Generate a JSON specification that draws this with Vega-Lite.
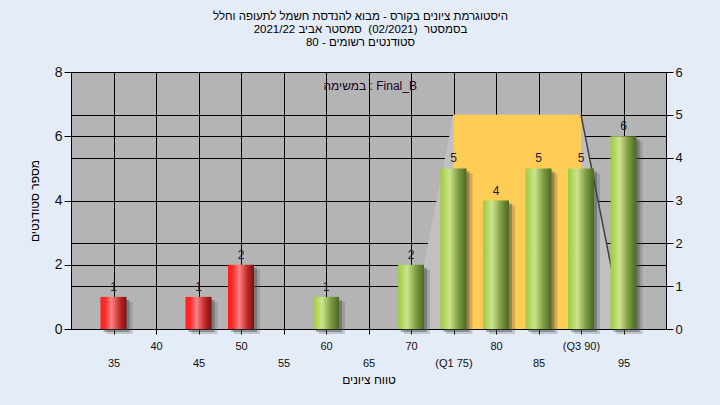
{
  "$schema": "https://vega.github.io/schema/vega-lite/v6.json",
  "width": 595,
  "height": 257,
  "autosize": "none",
  "padding": {"left": 71, "top": 72, "right": 54, "bottom": 76},
  "background": "#e3ecf7",
  "title": {
    "text": ["היסטוגרמת ציונים בקורס - מבוא להנדסת חשמל לתעופה וחלל", "בסמסטר\u00a0\u00a0(02/2021)\u00a0\u00a0סמסטר אביב 2021/22", "סטודנטים רשומים - 80"],
    "anchor": "middle",
    "frame": "group",
    "dx": -8,
    "offset": 17,
    "font": "Liberation Sans",
    "fontSize": 11.5,
    "fontWeight": "normal",
    "lineHeight": 13,
    "color": "#000000"
  },
  "datasets": {
    "bars": [
      {"g": 35, "n": 1}, {"g": 45, "n": 1}, {"g": 50, "n": 2}, {"g": 60, "n": 1}, {"g": 70, "n": 2},
      {"g": 75, "n": 5}, {"g": 80, "n": 4}, {"g": 85, "n": 5}, {"g": 90, "n": 5}, {"g": 95, "n": 6}
    ],
    "poly": [{"g": 70, "v": 0}, {"g": 75, "v": 5}, {"g": 90, "v": 5}, {"g": 95, "v": 0}],
    "iqr": [{"a": 75, "b": 90, "v": 5}],
    "edge": [{"g": 90, "v": 5}, {"g": 95, "v": 0}],
    "note": [{"t": "במשימה : Final_B", "g": 65.2, "n": 7.55}]
  },
  "layer": [
    {
      "layer": [
        {
          "data": {"name": "poly"},
          "mark": {"type": "area", "color": "#c0c0c0", "opacity": 1},
          "encoding": {
            "x": {"field": "g", "type": "quantitative", "scale": {"domain": [30, 100], "nice": false, "zero": false, "padding": 0}},
            "y": {"field": "v", "type": "quantitative", "scale": {"domain": [0, 6], "nice": false},
              "axis": {"orient": "right", "values": [0, 1, 2, 3, 4, 5, 6], "title": null, "grid": true, "tickSize": 7, "labelPadding": 2, "labelFontSize": 13}}
          }
        },
        {
          "data": {"name": "iqr"},
          "mark": {"type": "rect", "color": "#ffcc55"},
          "encoding": {
            "x": {"field": "a", "type": "quantitative", "scale": {"domain": [30, 100], "nice": false, "zero": false, "padding": 0}},
            "x2": {"field": "b"},
            "y": {"field": "v", "type": "quantitative", "scale": {"domain": [0, 6], "nice": false}},
            "y2": {"datum": 0}
          }
        },
        {
          "data": {"name": "edge"},
          "mark": {"type": "line", "color": "#404040", "strokeWidth": 1.5},
          "encoding": {
            "x": {"field": "g", "type": "quantitative", "scale": {"domain": [30, 100], "nice": false, "zero": false, "padding": 0}},
            "y": {"field": "v", "type": "quantitative", "scale": {"domain": [0, 6], "nice": false}}
          }
        }
      ]
    },
    {
      "layer": [
        {
          "data": {"name": "bars"},
          "mark": {"type": "bar", "size": 26, "xOffset": 6, "yOffset": 5, "color": "#505050", "opacity": 0.25},
          "encoding": {
            "x": {"field": "g", "type": "quantitative", "scale": {"domain": [30, 100], "nice": false, "zero": false, "padding": 0}},
            "y": {"field": "n", "type": "quantitative", "scale": {"domain": [0, 8], "nice": false}}
          }
        },
        {
          "data": {"name": "bars"},
          "mark": {"type": "bar", "size": 26, "xOffset": 3, "yOffset": 3, "color": "#404040", "opacity": 0.4},
          "encoding": {
            "x": {"field": "g", "type": "quantitative", "scale": {"domain": [30, 100], "nice": false, "zero": false, "padding": 0}},
            "y": {"field": "n", "type": "quantitative", "scale": {"domain": [0, 8], "nice": false}}
          }
        },
        {
          "data": {"name": "bars"},
          "transform": [{"filter": "datum.g < 55"}],
          "mark": {"type": "bar", "size": 26, "color": {"gradient": "linear", "x1": 0, "x2": 1, "y1": 0, "y2": 0,
            "stops": [{"offset": 0, "color": "#ff1a1a"}, {"offset": 0.2, "color": "#ff3030"}, {"offset": 0.42, "color": "#ff8282"}, {"offset": 0.75, "color": "#c02828"}, {"offset": 1, "color": "#781010"}]}},
          "encoding": {
            "x": {"field": "g", "type": "quantitative", "scale": {"domain": [30, 100], "nice": false, "zero": false, "padding": 0},
              "axis": {"values": [35, 40, 45, 50, 55, 60, 65, 70, 75, 80, 85, 90, 95], "title": "טווח ציונים", "grid": true, "tickSize": 5, "labelFontSize": 11,
                "labelPadding": {"condition": {"test": "datum.value % 10 == 0", "value": 6}, "value": 23},
                "labelExpr": "datum.value == 75 ? '(Q1 75)' : datum.value == 90 ? '(Q3 90)' : datum.label",
                "labelOverlap": false, "labelFlush": false, "titlePadding": 6}},
            "y": {"field": "n", "type": "quantitative", "scale": {"domain": [0, 8], "nice": false},
              "axis": {"orient": "left", "values": [0, 2, 4, 6, 8], "title": "מספר סטודנטים", "grid": true, "tickSize": 7, "labelPadding": 2, "labelFontSize": 14, "titlePadding": 13}}
          }
        },
        {
          "data": {"name": "bars"},
          "transform": [{"filter": "datum.g >= 55"}],
          "mark": {"type": "bar", "size": 26, "color": {"gradient": "linear", "x1": 0, "x2": 1, "y1": 0, "y2": 0,
            "stops": [{"offset": 0, "color": "#9ccc3c"}, {"offset": 0.35, "color": "#cce48e"}, {"offset": 0.7, "color": "#7c9a40"}, {"offset": 1, "color": "#4a6824"}]}},
          "encoding": {
            "x": {"field": "g", "type": "quantitative", "scale": {"domain": [30, 100], "nice": false, "zero": false, "padding": 0}},
            "y": {"field": "n", "type": "quantitative", "scale": {"domain": [0, 8], "nice": false}}
          }
        },
        {
          "data": {"name": "bars"},
          "mark": {"type": "text", "baseline": "bottom", "dy": -3, "font": "Liberation Sans", "fontSize": 12, "color": "#1c1c3c"},
          "encoding": {
            "x": {"field": "g", "type": "quantitative", "scale": {"domain": [30, 100], "nice": false, "zero": false, "padding": 0}},
            "y": {"field": "n", "type": "quantitative", "scale": {"domain": [0, 8], "nice": false}},
            "text": {"field": "n"}
          }
        },
        {
          "data": {"name": "note"},
          "mark": {"type": "text", "baseline": "middle", "font": "Liberation Sans", "fontSize": 12, "color": "#200020"},
          "encoding": {
            "x": {"field": "g", "type": "quantitative", "scale": {"domain": [30, 100], "nice": false, "zero": false, "padding": 0}},
            "y": {"field": "n", "type": "quantitative", "scale": {"domain": [0, 8], "nice": false}},
            "text": {"field": "t"}
          }
        }
      ]
    }
  ],
  "resolve": {"scale": {"y": "independent"}, "axis": {"y": "independent"}},
  "config": {
    "view": {"fill": "#b4b4b4", "stroke": "#000000", "strokeWidth": 1},
    "axis": {
      "gridColor": "#000000", "gridOpacity": 1, "gridWidth": 1,
      "domainColor": "#000000", "tickColor": "#000000",
      "labelColor": "#111111", "labelFont": "Liberation Sans",
      "titleFont": "Liberation Sans", "titleFontWeight": "normal", "titleFontSize": 12, "titleColor": "#000000"
    }
  }
}
